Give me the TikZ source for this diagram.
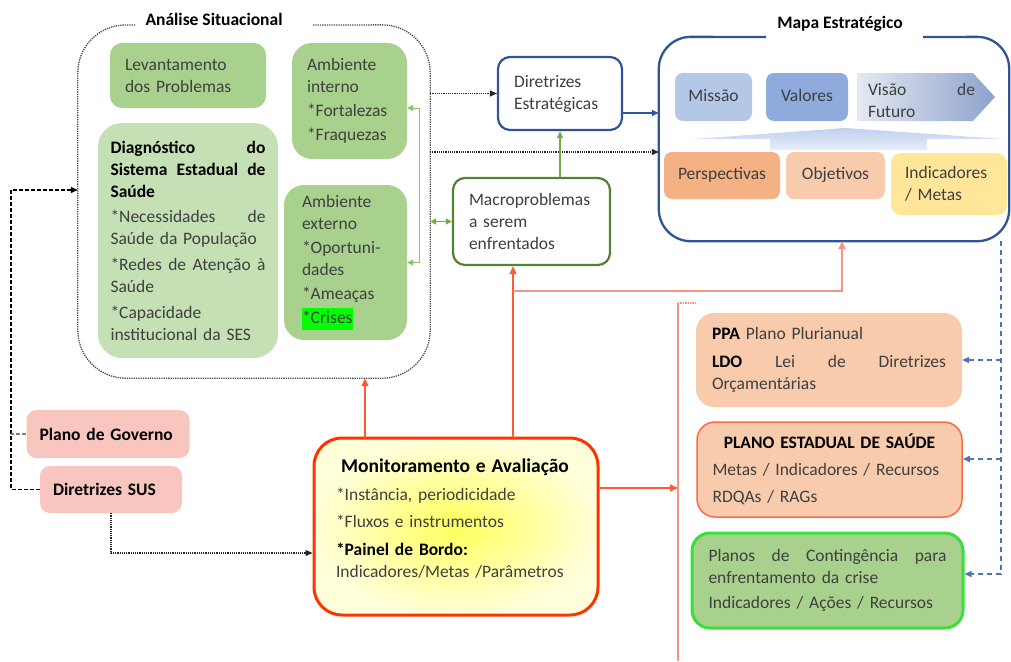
\documentclass[tikz,border=0pt]{standalone}
\usepackage{fontspec}
\setmainfont{Carlito}
\usetikzlibrary{arrows.meta}
\definecolor{txt}{HTML}{3F3F3F}
\definecolor{gMed}{HTML}{A9D18E}
\definecolor{gLight}{HTML}{C5E0B4}
\definecolor{blueB}{HTML}{2F5597}
\definecolor{greenB}{HTML}{548235}
\definecolor{gArr}{HTML}{70AD47}
\definecolor{lgArr}{HTML}{8CC26B}
\definecolor{oArr}{HTML}{FF5A36}
\definecolor{oLight}{HTML}{F89580}
\definecolor{redB}{HTML}{FF3300}
\definecolor{peach}{HTML}{F8CBAD}
\definecolor{persp}{HTML}{F4B183}
\definecolor{indic}{HTML}{FFE699}
\definecolor{pinkB}{HTML}{F8C6BE}
\definecolor{pesB}{HTML}{FF6A45}
\definecolor{contB}{HTML}{3ADF3A}
\definecolor{mis}{HTML}{B4C7E7}
\definecolor{val}{HTML}{8FAADC}
\definecolor{visL}{HTML}{E4E9F2}
\definecolor{visR}{HTML}{8FA2CD}
\definecolor{arrT}{HTML}{BFD0F0}
\definecolor{arrB}{HTML}{E8EEF9}
\definecolor{hl}{HTML}{00FF00}
\definecolor{bDash}{HTML}{4F72B8}
\definecolor{yelIn}{HTML}{FFFF5C}
\definecolor{yelOut}{HTML}{FFFFDA}
\newcommand\bld[1]{\textcolor{black}{\bfseries #1}}
\tikzset{
  tip/.style={-{Triangle[length=7pt,width=6pt]}},
  dotarr/.style={tip, densely dotted, line width=1.2pt, black!85},
  bluearr/.style={tip, line width=1.6pt, blueB},
  garr/.style={tip, line width=1.3pt, gArr},
  gdbl/.style={{Triangle[length=6pt,width=6pt]}-{Triangle[length=6pt,width=6pt]}, line width=1.3pt, gArr},
  lgdbl/.style={{Triangle[length=6pt,width=6pt]}-{Triangle[length=6pt,width=6pt]}, line width=1pt, lgArr},
  oarr/.style={-{Triangle[length=8pt,width=7pt]}, line width=1.6pt, oArr},
  oarr2/.style={-{Triangle[length=8pt,width=7pt]}, line width=1.6pt, oLight},
  olight/.style={line width=1.4pt, oLight},
  bdash/.style={-{Triangle[length=7pt,width=6pt]}, line width=1.5pt, bDash, dash pattern=on 5pt off 4pt},
  kdash/.style={-{Triangle[length=7pt,width=6pt]}, line width=1.2pt, black, dash pattern=on 4pt off 2pt},
  gdash/.style={line width=1.5pt, gray, dash pattern=on 4pt off 2pt},
  ttl/.style={font=\fontsize{17.5}{20}\selectfont\bfseries, text=black},
  tbox/.style={align=left, inner sep=0pt},
}
\begin{document}
\begin{tikzpicture}[x=1pt,y=-1pt, every node/.style={font=\fontsize{17.5}{22}\selectfont, text=txt, inner sep=0pt}]
\useasboundingbox (0,0) rectangle (1011,661);

% ---------------- Análise Situacional
\node[minimum width=352pt, minimum height=353pt] (ana) at (254,201.5) {};
\draw[densely dotted, line width=1.3pt, black!70, rounded corners=48pt]
  (313,25) -- (ana.north east) -- (ana.south east) -- (ana.south west) -- (ana.north west) -- (135,25);
\node[ttl] (anat) at (214,19) {Análise Situacional};

\node[tbox, fill=gMed, rounded corners=12pt, minimum width=156pt, minimum height=65pt, text width=126pt] (lev) at (188,75.5)
  {Levantamento\\dos Problemas};
\node[tbox, fill=gLight, rounded corners=24pt, minimum width=180pt, minimum height=235pt, text width=155pt] (diag) at (188,240.5)
  {\bld{Diagnóstico\hfill do\\Sistema\hfill Estadual\hfill de\\Saúde}\\[3pt]
   *Necessidades\hfill de\\Saúde da População\\[4pt]
   *Redes\hfill de\hfill Atenção\hfill à\\Saúde\\[4pt]
   *Capacidade\\institucional da SES};
\node[tbox, fill=gMed, rounded corners=20pt, minimum width=115pt, minimum height=116pt, text width=85pt] (ai) at (349.5,101)
  {Ambiente\\interno\\[2pt]*Fortalezas\\[2pt]*Fraquezas};
\node[tbox, fill=gMed, rounded corners=20pt, minimum width=123pt, minimum height=155pt, text width=87pt] (ae) at (345.5,262.5)
  {Ambiente\\externo\\[2pt]*Oportuni-\\dades\\[2pt]*Ameaças\\[2pt]{\setlength{\fboxsep}{0pt}\colorbox{hl}{\strut*Crises}}};

% ---------------- Diretrizes / Macroproblemas
\node[tbox, draw=blueB, line width=2.2pt, fill=white, rounded corners=12pt, minimum width=124pt, minimum height=73pt, text width=92pt] (dir) at (560,93.5)
  {Diretrizes\\Estratégicas\\[3pt]};
\node[tbox, draw=greenB, line width=2.2pt, fill=white, rounded corners=12pt, minimum width=157pt, minimum height=87pt, text width=125pt] (macro) at (531.5,221.5)
  {Macroproblemas\\a serem\\enfrentados};

% ---------------- Mapa Estratégico
\node[minimum width=350pt, minimum height=204pt] (map) at (834,139) {};
\draw[blueB, line width=2.3pt, rounded corners=32pt]
  (923,37) -- (map.north east) -- (map.south east) -- (map.south west) -- (map.north west) -- (766,37);
\node[ttl] (mapt) at (840,24) {Mapa Estratégico};

\node[fill=mis, rounded corners=8pt, minimum width=77pt, minimum height=48pt] (mis) at (713.5,97) {\raisebox{3pt}{Missão}};
\node[fill=val, rounded corners=8pt, minimum width=82pt, minimum height=48pt] (val) at (807,97) {\raisebox{3pt}{Valores}};
\path[left color=visL, right color=visR] (857,73) -- (973,73) -- (995,97) -- (973,121) -- (857,121) -- cycle;
\node[tbox, text width=107pt] (vis) at (921.5,100.5) {Visão\hfill de\\Futuro};
\path[top color=arrT, bottom color=arrB]
  (693,139) -- (845,128) -- (1003,139) -- (927,139) -- (927,150) -- (770,150) -- (770,139) -- cycle;
\node[fill=persp, rounded corners=8pt, minimum width=116pt, minimum height=47pt] (per) at (722,175.5) {\raisebox{4pt}{Perspectivas}};
\node[fill=peach, rounded corners=8pt, minimum width=99pt, minimum height=47pt] (obj) at (835.5,175.5) {\raisebox{4pt}{Objetivos}};
\node[tbox, fill=indic, rounded corners=10pt, minimum width=116pt, minimum height=62pt, text width=88pt] (ind) at (949,184)
  {Indicadores\\/ Metas};

% ---------------- Left pink boxes
\node[tbox, fill=pinkB, rounded corners=10pt, minimum width=163pt, minimum height=48pt, text width=137pt] (pgov) at (108,434)
  {\bld{Plano de Governo}};
\node[tbox, fill=pinkB, rounded corners=10pt, minimum width=142pt, minimum height=47pt, text width=116pt] (dsus) at (111,489.5)
  {\bld{Diretrizes SUS}};

% ---------------- Monitoramento
\node[draw=redB, line width=3pt, inner color=yelIn, outer color=yelOut, rounded corners=28pt, minimum width=284pt, minimum height=177pt] (mon) at (456,526.5) {};
\node[tbox, text width=238pt] (mont) at (455,519)
  {\hfill{\fontsize{19.5}{22}\selectfont\bld{Monitoramento e Avaliação}}\hfill\null\\[6pt]
   *Instância, periodicidade\\[5pt]
   *Fluxos e instrumentos\\[6pt]
   \bld{*Painel de Bordo:}\\
   Indicadores/Metas /Parâmetros};

% ---------------- Right plans
\node[tbox, fill=peach, rounded corners=18pt, minimum width=266pt, minimum height=94pt, text width=234pt] (ppa) at (829,360)
  {\bld{PPA} Plano Plurianual\\[6pt]\bld{LDO}\hfill Lei\hfill de\hfill Diretrizes\\Orçamentárias};
\node[tbox, fill=peach, draw=pesB, line width=1.5pt, rounded corners=18pt, minimum width=265pt, minimum height=95pt, text width=234pt] (pes) at (829.5,469.5)
  {\hfill\bld{PLANO ESTADUAL DE SAÚDE}\hfill\null\\[5pt]Metas / Indicadores / Recursos\\[5pt]RDQAs / RAGs};
\node[tbox, fill=gMed, draw=contB, line width=3pt, rounded corners=18pt, minimum width=271pt, minimum height=95pt, text width=238pt] (cont) at (827.5,580.5)
  {Planos\hfill de\hfill Contingência\hfill para\\enfrentamento da crise\\[3pt]Indicadores / Ações / Recursos};

% ---------------- Connectors
\draw[dotarr] (ana.east |- dir.west) -- (dir.west);
\coordinate (lv2) at (430,152);
\draw[dotarr] (lv2) -- (lv2 -| map.west);
\coordinate (d1) at ([yshift=-19.5pt]dir.east);
\draw[bluearr] (d1) -- (d1 -| map.west);
\draw[garr] (dir.south |- macro.north) -- (dir.south);
\draw[gdbl] (ana.east |- macro.west) -- (macro.west);
\coordinate (gi) at ([yshift=-7pt]ai.east);
\draw[lgdbl] (gi) -- ++(12,0) |- (ae.east);

\coordinate (m1) at (365,438);
\draw[oarr] (m1) -- (m1 |- ana.south);
\coordinate (m2) at (513,438);
\draw[oarr] (m2) -- (m2 |- macro.south);
\coordinate (m3) at (842,291);
\draw[oarr2] (m2 |- m3) -- (m3) -- (m3 |- map.south);
\coordinate (vt) at (678,303);
\coordinate (vb) at (678,661);
\draw[olight] (vt) -- (vb);
\draw[olight, densely dotted] (vt) -- ++(19,0);
\coordinate (me) at ([yshift=38.5pt]mon.east);
\draw[oarr] (me) -- (me -| vt);

\coordinate (bd) at (1001,241);
\coordinate (ce) at ([yshift=6.5pt]cont.east);
\coordinate (pe) at ([yshift=10.5pt]pes.east);
\draw[bdash] (bd) |- (ce);
\draw[bdash] (bd |- ppa.east) -- (ppa.east);
\draw[bdash] (bd |- pe) -- (pe);

\coordinate (c1) at (11,190);
\draw[kdash] (dsus.west) -| (c1) -- (c1 -| ana.west);
\draw[gdash] (pgov.west) -- (pgov.west -| c1);
\coordinate (mw) at ([yshift=-26.5pt]mon.west);
\draw[dotarr] (dsus.south) |- (mw);
\end{tikzpicture}
\end{document}
